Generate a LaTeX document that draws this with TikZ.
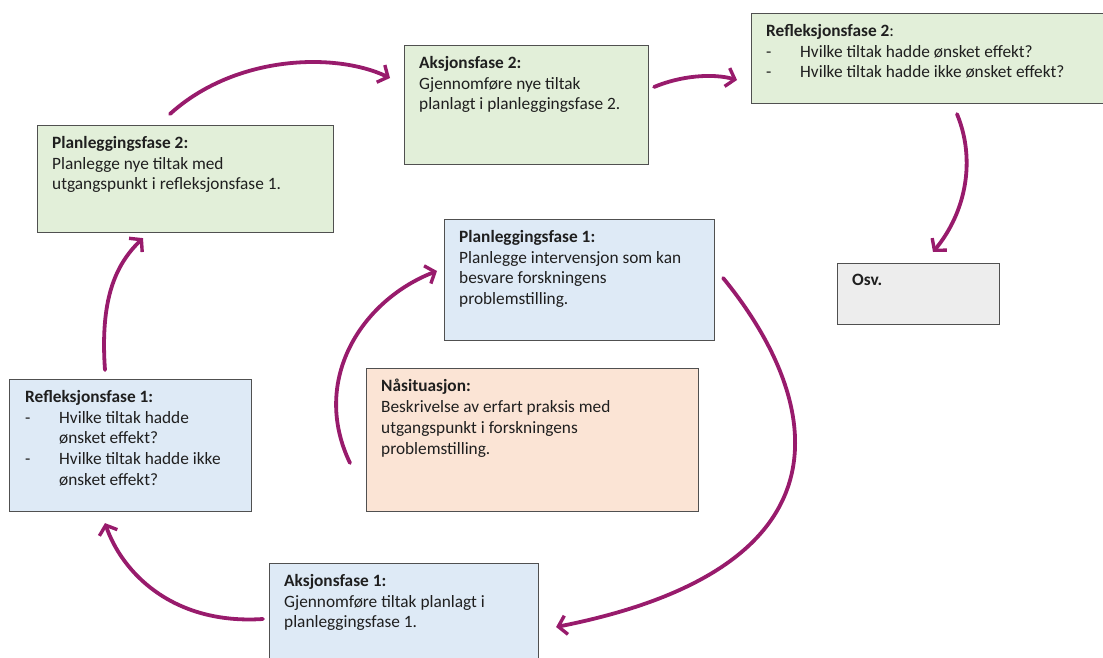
\documentclass[tikz,border=0pt]{standalone}
\usepackage{fontspec}
\setmainfont{Carlito}
\usetikzlibrary{arrows.meta,calc}

\definecolor{boxline}{HTML}{505050}
\definecolor{greenfill}{HTML}{E2EFD9}
\definecolor{bluefill}{HTML}{DEEAF6}
\definecolor{orangefill}{HTML}{FBE4D5}
\definecolor{grayfill}{HTML}{EDEDED}
\definecolor{flow}{HTML}{981B6C}

\newcommand{\dashitem}{\makebox[34pt][l]{-}}
\newcommand{\dashcont}{\hspace*{34pt}}

\begin{document}
\begin{tikzpicture}[x=1pt,y=-1pt,
  fasebox/.style={draw=boxline, line width=1.1pt, inner sep=0pt, anchor=north west},
  fasetext/.style={anchor=north west, inner sep=0pt, align=left, text=black!88,
    font=\fontsize{17.3}{20.8}\selectfont},
  flowarrow/.style={draw=flow, line width=3.8pt, line cap=round,
    -{Straight Barb[length=8pt,width=19pt,line width=3.4pt]}}
]
\useasboundingbox (0,0) rectangle (1103,658);

% phase boxes
\node[fasebox, fill=greenfill, minimum width=296, minimum height=107] (pl2) at (37,125) {};
\node[fasebox, fill=greenfill, minimum width=244, minimum height=119] (ak2) at (404,45) {};
\node[fasebox, fill=greenfill, minimum width=356, minimum height=90] (rf2) at (751,13) {};
\node[fasebox, fill=bluefill, minimum width=270, minimum height=121] (pf1) at (444,219) {};
\node[fasebox, fill=grayfill, minimum width=162, minimum height=61] (osv) at (837,263) {};
\node[fasebox, fill=bluefill, minimum width=242, minimum height=132] (rf1) at (9,379) {};
\node[fasebox, fill=orangefill, minimum width=332, minimum height=143] (nas) at (366,368) {};
\node[fasebox, fill=bluefill, minimum width=269, minimum height=110] (ak1) at (269,563) {};

% box texts
\node[fasetext] (pl2t) at ($(pl2.north west)+(15,11)$)
  {\textbf{Planleggingsfase 2:}\\Planlegge nye tiltak med\\utgangspunkt i refleksjonsfase 1.};
\node[fasetext] (ak2t) at ($(ak2.north west)+(15,11)$)
  {\textbf{Aksjonsfase 2:}\\Gjennomføre nye tiltak\\planlagt i planleggingsfase 2.};
\node[fasetext] (rf2t) at ($(rf2.north west)+(15,11)$)
  {\textbf{Refleksjonsfase 2}:\\\dashitem Hvilke tiltak hadde ønsket effekt?\\\dashitem Hvilke tiltak hadde ikke ønsket effekt?};
\node[fasetext] (pf1t) at ($(pf1.north west)+(15,11)$)
  {\textbf{Planleggingsfase 1:}\\Planlegge intervensjon som kan\\besvare forskningens\\problemstilling.};
\node[fasetext] (osvt) at ($(osv.north west)+(15,11)$) {\textbf{Osv.}};
\node[fasetext] (rf1t) at ($(rf1.north west)+(16,11)$)
  {\textbf{Refleksjonsfase 1:}\\\dashitem Hvilke tiltak hadde\\\dashcont ønsket effekt?\\\dashitem Hvilke tiltak hadde ikke\\\dashcont ønsket effekt?};
\node[fasetext] (nast) at ($(nas.north west)+(15,11)$)
  {\textbf{Nåsituasjon:}\\Beskrivelse av erfart praksis med\\utgangspunkt i forskningens\\problemstilling.};
\node[fasetext] (ak1t) at ($(ak1.north west)+(15,11)$)
  {\textbf{Aksjonsfase 1:}\\Gjennomføre tiltak planlagt i\\planleggingsfase 1.};

% arrow end points, a small gap away from the boxes
\coordinate (c1s) at ($(pl2.north west)+(133,-11)$);
\coordinate (c1e) at ($(ak2.north west)+(-14,33)$);
\coordinate (c2s) at ($(ak2.north east)+(5,42)$);
\coordinate (c2e) at ($(rf2.north west)+(-14,67)$);
\coordinate (c3s) at ($(rf2.south west)+(206,10)$);
\coordinate (c3e) at ($(osv.north west)+(96,-11)$);
\coordinate (c4s) at ($(pf1.north east)+(8,59)$);
\coordinate (c4e) at ($(ak1.north east)+(17,64)$);
\coordinate (c5s) at ($(ak1.north west)+(-6,56)$);
\coordinate (c5e) at ($(rf1.south west)+(96,11)$);
\coordinate (c6s) at ($(rf1.north west)+(96,-9)$);
\coordinate (c6e) at ($(pl2.south west)+(106,5)$);
\coordinate (c7s) at ($(nas.north west)+(-16,95)$);
\coordinate (c7e) at ($(pf1.north west)+(-7,52)$);

% cycle arrows
\draw[flowarrow] (c1s) .. controls (235,55) and (335,52) .. (c1e);
\draw[flowarrow] (c2s) .. controls (680,76) and (712,73) .. (c2e);
\draw[flowarrow] (c3s) .. controls (976,160) and (966,212) .. (c3e);
\draw[flowarrow] (c4s) .. controls (815,390) and (870,565) .. (c4e);
\draw[flowarrow] (c5s) .. controls (172,625) and (122,572) .. (c5e);
\draw[flowarrow] (c6s) .. controls (100,300) and (115,265) .. (c6e);
\draw[flowarrow] (c7s) .. controls (310,380) and (362,300) .. (c7e);
\end{tikzpicture}
\end{document}
